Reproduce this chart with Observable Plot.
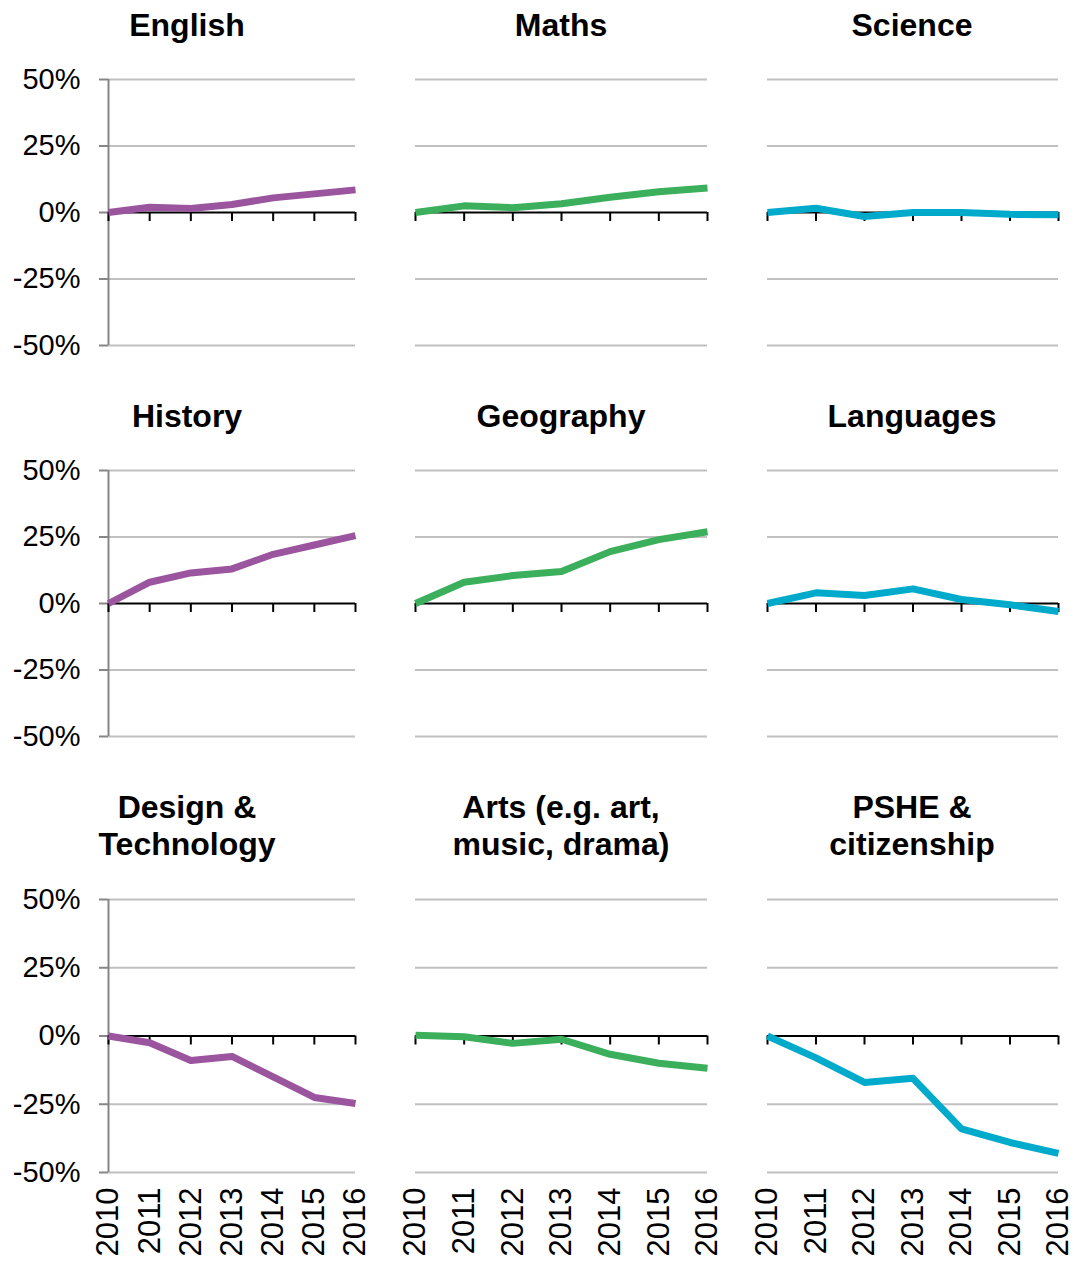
<!DOCTYPE html>
<html>
<head>
<meta charset="utf-8">
<script src="https://cdn.jsdelivr.net/npm/d3@7"></script>
<script src="https://cdn.jsdelivr.net/npm/@observablehq/plot@0.6"></script>
<style>
  html, body { margin: 0; padding: 0; background: #fff; }
  #chart { position: relative; width: 1074px; height: 1261px; font-family: "Liberation Sans", Arial, sans-serif; }
  .title { position: absolute; font-weight: bold; font-size: 32px; line-height: 37px; text-align: center; color: #000; white-space: nowrap; transform: translateX(-50%); }
  .panel { position: absolute; }
</style>
</head>
<body>
<div id="chart"></div>
<script>
const years = [2010, 2011, 2012, 2013, 2014, 2015, 2016];
const yTicks = [50, 25, 0, -25, -50];

const subjects = ["English", "Maths", "Science", "History", "Geography", "Languages",
  "Design &\nTechnology", "Arts (e.g. art,\nmusic, drama)", "PSHE &\ncitizenship"];

const english    = [0, 2, 1.5, 3, 5.5, 7, 8.5];
const maths      = [0, 2.5, 1.8, 3.3, 5.7, 7.8, 9.2];
const science    = [0, 1.6, -1.5, 0, 0, -0.7, -0.8];
const history    = [0, 8, 11.5, 13, 18.5, 22, 25.5];
const geography  = [0, 8, 10.5, 12, 19.5, 24, 27];
const languages  = [0, 4, 3, 5.5, 1.5, -0.5, -3];
const designTech = [0, -2.5, -9, -7.5, -15, -22.5, -24.7];
const arts       = [0.3, -0.3, -2.7, -1.2, -6.7, -10, -11.8];
const pshe       = [0, -8, -17, -15.5, -34, -39, -43];

const series = [english, maths, science, history, geography, languages, designTech, arts, pshe];
const palette = ["#9a559e", "#3caf5c", "#00aacb"];

// layout
const cols = [
  {left: 0,   width: 370, ml: 108, mr: 15, titleX: 187},
  {left: 380, width: 345, ml: 35,  mr: 18, titleX: 561},
  {left: 730, width: 344, ml: 37,  mr: 16, titleX: 912}
];
const rows = [
  {top: 60,  height: 300, mt: 19, mb: 15, titleTop: 7},
  {top: 451, height: 300, mt: 19, mb: 15, titleTop: 398},
  {top: 880, height: 381, mt: 19, mb: 89, titleTop: 789}
];

const chart = document.getElementById("chart");
const font = "'Liberation Sans', Arial, sans-serif";

subjects.forEach((name, i) => {
  const r = Math.floor(i / 3), c = i % 3;
  const col = cols[c], row = rows[r];
  const vals = series[i];
  const data = years.map((y, k) => ({year: y, value: vals[k]}));

  const marks = [
    Plot.ruleY(yTicks.filter(d => d !== 0), {stroke: "#c0c0c0", strokeWidth: 2})
  ];
  if (c === 0) {
    marks.push(Plot.ruleX([2010], {stroke: "#868686", strokeWidth: 2}));
    marks.push(Plot.axisY({
      ticks: yTicks, tickFormat: d => `${d}%`, tickSize: 9, tickPadding: 19,
      stroke: "#868686", strokeWidth: 2, fill: "#000", fontSize: 29, label: null
    }));
  }
  marks.push(Plot.ruleY([0], {stroke: "#000", strokeWidth: 2}));
  marks.push(Plot.ruleX(years, {x: d => d, y1: 0, y2: 0, insetBottom: -9, stroke: "#000", strokeWidth: 2}));
  marks.push(Plot.line(data, {x: "year", y: "value", stroke: palette[c], strokeWidth: 7, strokeLinecap: "butt", strokeLinejoin: "round"}));
  if (r === 2) {
    marks.push(Plot.axisX({
      ticks: years, tickFormat: d => String(d), tickSize: 0, tickPadding: 15,
      tickRotate: -90, fill: "#000", fontSize: 31, label: null
    }));
  }

  const svg = Plot.plot({
    width: col.width,
    height: row.height,
    marginLeft: col.ml,
    marginRight: col.mr,
    marginTop: row.mt,
    marginBottom: row.mb,
    x: {domain: [2010, 2016], axis: r === 2 ? undefined : null, label: null},
    y: {domain: [-50, 50], axis: c === 0 ? undefined : null, label: null},
    style: {fontFamily: font, fontSize: "29px", color: "#000", background: "transparent", overflow: "visible"},
    marks
  });
  const wrap = document.createElement("div");
  wrap.className = "panel";
  wrap.style.left = col.left + "px";
  wrap.style.top = row.top + "px";
  wrap.appendChild(svg);
  chart.appendChild(wrap);

  const t = document.createElement("div");
  t.className = "title";
  t.style.left = col.titleX + "px";
  t.style.top = row.titleTop + "px";
  t.innerHTML = name.split("\n").join("<br>");
  chart.appendChild(t);
});
</script>
</body>
</html>
